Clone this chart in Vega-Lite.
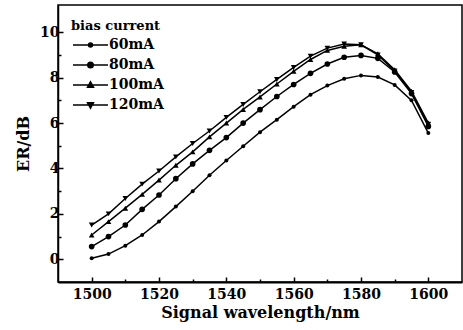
{
  "$schema": "https://vega.github.io/schema/vega-lite/v6.json",
  "width": 404,
  "height": 277,
  "autosize": {"type": "none"},
  "padding": {"left": 58, "top": 5, "right": 1, "bottom": 48},
  "background": "white",
  "config": {
    "view": {"stroke": "black", "strokeWidth": 1.5},
    "font": "DejaVu Serif",
    "axis": {
      "labelFont": "DejaVu Serif", "labelFontWeight": "bold", "labelFontSize": 14, "labelColor": "black",
      "titleFont": "DejaVu Serif", "titleFontWeight": "bold", "titleFontSize": 16, "titleColor": "black",
      "domainColor": "black", "domainWidth": 1.5, "tickColor": "black", "tickWidth": 1.5, "grid": false
    },
    "legend": {
      "orient": "none", "legendX": 13, "legendY": 15, "padding": 0,
      "titleFont": "DejaVu Serif", "titleFontSize": 13, "titleFontWeight": "bold", "titleColor": "black", "titlePadding": 5,
      "labelFont": "DejaVu Serif", "labelFontSize": 14, "labelFontWeight": "bold", "labelColor": "black",
      "symbolSize": 100, "labelOffset": 24, "rowPadding": 6, "symbolOpacity": 1, "symbolStrokeWidth": 1.5
    }
  },
  "data": {"values": [
    {"wl":1500,"er":0.05,"bias":"60mA"},{"wl":1505,"er":0.23,"bias":"60mA"},{"wl":1510,"er":0.6,"bias":"60mA"},{"wl":1515,"er":1.07,"bias":"60mA"},{"wl":1520,"er":1.66,"bias":"60mA"},{"wl":1525,"er":2.32,"bias":"60mA"},{"wl":1530,"er":3.0,"bias":"60mA"},{"wl":1535,"er":3.7,"bias":"60mA"},{"wl":1540,"er":4.35,"bias":"60mA"},{"wl":1545,"er":4.98,"bias":"60mA"},{"wl":1550,"er":5.6,"bias":"60mA"},{"wl":1555,"er":6.15,"bias":"60mA"},{"wl":1560,"er":6.72,"bias":"60mA"},{"wl":1565,"er":7.25,"bias":"60mA"},{"wl":1570,"er":7.65,"bias":"60mA"},{"wl":1575,"er":7.95,"bias":"60mA"},{"wl":1580,"er":8.1,"bias":"60mA"},{"wl":1585,"er":8.03,"bias":"60mA"},{"wl":1590,"er":7.68,"bias":"60mA"},{"wl":1595,"er":7.0,"bias":"60mA"},{"wl":1600,"er":5.56,"bias":"60mA"},
    {"wl":1500,"er":0.56,"bias":"80mA"},{"wl":1505,"er":1.0,"bias":"80mA"},{"wl":1510,"er":1.51,"bias":"80mA"},{"wl":1515,"er":2.2,"bias":"80mA"},{"wl":1520,"er":2.83,"bias":"80mA"},{"wl":1525,"er":3.55,"bias":"80mA"},{"wl":1530,"er":4.2,"bias":"80mA"},{"wl":1535,"er":4.8,"bias":"80mA"},{"wl":1540,"er":5.36,"bias":"80mA"},{"wl":1545,"er":6.0,"bias":"80mA"},{"wl":1550,"er":6.59,"bias":"80mA"},{"wl":1555,"er":7.17,"bias":"80mA"},{"wl":1560,"er":7.7,"bias":"80mA"},{"wl":1565,"er":8.19,"bias":"80mA"},{"wl":1570,"er":8.6,"bias":"80mA"},{"wl":1575,"er":8.9,"bias":"80mA"},{"wl":1580,"er":8.98,"bias":"80mA"},{"wl":1585,"er":8.85,"bias":"80mA"},{"wl":1590,"er":8.25,"bias":"80mA"},{"wl":1595,"er":7.3,"bias":"80mA"},{"wl":1600,"er":5.85,"bias":"80mA"},
    {"wl":1500,"er":1.07,"bias":"100mA"},{"wl":1505,"er":1.66,"bias":"100mA"},{"wl":1510,"er":2.25,"bias":"100mA"},{"wl":1515,"er":2.86,"bias":"100mA"},{"wl":1520,"er":3.49,"bias":"100mA"},{"wl":1525,"er":4.14,"bias":"100mA"},{"wl":1530,"er":4.73,"bias":"100mA"},{"wl":1535,"er":5.39,"bias":"100mA"},{"wl":1540,"er":6.0,"bias":"100mA"},{"wl":1545,"er":6.6,"bias":"100mA"},{"wl":1550,"er":7.15,"bias":"100mA"},{"wl":1555,"er":7.72,"bias":"100mA"},{"wl":1560,"er":8.28,"bias":"100mA"},{"wl":1565,"er":8.8,"bias":"100mA"},{"wl":1570,"er":9.2,"bias":"100mA"},{"wl":1575,"er":9.38,"bias":"100mA"},{"wl":1580,"er":9.45,"bias":"100mA"},{"wl":1585,"er":9.05,"bias":"100mA"},{"wl":1590,"er":8.35,"bias":"100mA"},{"wl":1595,"er":7.4,"bias":"100mA"},{"wl":1600,"er":6.0,"bias":"100mA"},
    {"wl":1500,"er":1.51,"bias":"120mA"},{"wl":1505,"er":2.0,"bias":"120mA"},{"wl":1510,"er":2.68,"bias":"120mA"},{"wl":1515,"er":3.31,"bias":"120mA"},{"wl":1520,"er":3.89,"bias":"120mA"},{"wl":1525,"er":4.51,"bias":"120mA"},{"wl":1530,"er":5.1,"bias":"120mA"},{"wl":1535,"er":5.65,"bias":"120mA"},{"wl":1540,"er":6.25,"bias":"120mA"},{"wl":1545,"er":6.82,"bias":"120mA"},{"wl":1550,"er":7.38,"bias":"120mA"},{"wl":1555,"er":7.92,"bias":"120mA"},{"wl":1560,"er":8.45,"bias":"120mA"},{"wl":1565,"er":8.95,"bias":"120mA"},{"wl":1570,"er":9.3,"bias":"120mA"},{"wl":1575,"er":9.48,"bias":"120mA"},{"wl":1580,"er":9.45,"bias":"120mA"},{"wl":1585,"er":9.0,"bias":"120mA"},{"wl":1590,"er":8.3,"bias":"120mA"},{"wl":1595,"er":7.35,"bias":"120mA"},{"wl":1600,"er":5.95,"bias":"120mA"}
  ]},
  "layer": [
    {
      "mark": {"type": "line", "color": "black", "strokeWidth": 1.5},
      "encoding": {
        "x": {"field": "wl", "type": "quantitative", "scale": {"domain": [1490, 1610], "nice": false, "zero": false},
          "axis": {"values": [1500, 1520, 1540, 1560, 1580, 1600], "tickSize": -5, "labelPadding": 10, "title": "Signal wavelength/nm", "titlePadding": 3, "format": "d", "domainWidth": 2}},
        "y": {"field": "er", "type": "quantitative", "scale": {"domain": [-1, 11.2], "nice": false, "zero": false},
          "axis": {"values": [0, 2, 4, 6, 8, 10], "tickSize": -5, "labelPadding": 4, "title": "ER/dB", "titlePadding": 8}},
        "detail": {"field": "bias"}
      }
    },
    {
      "transform": [{"filter": "datum.bias === '60mA'"}],
      "mark": {"type": "point", "filled": true, "color": "black", "opacity": 1, "size": 16, "shape": "circle"},
      "encoding": {
        "x": {"field": "wl", "type": "quantitative", "axis": null},
        "y": {"field": "er", "type": "quantitative", "axis": null}
      }
    },
    {
      "transform": [{"filter": "datum.bias !== '60mA'"}],
      "mark": {"type": "point", "filled": true, "color": "black", "opacity": 1, "size": 32},
      "encoding": {
        "x": {"field": "wl", "type": "quantitative", "axis": null},
        "y": {"field": "er", "type": "quantitative", "axis": null},
        "shape": {"field": "bias", "type": "nominal",
          "scale": {"domain": ["80mA", "100mA", "120mA"], "range": ["circle", "triangle-up", "triangle-down"]},
          "legend": null}
      }
    },
    {
      "mark": {"type": "point", "filled": true, "fill": "black", "stroke": "black", "strokeWidth": 1.5, "opacity": 0},
      "encoding": {
        "x": {"field": "wl", "type": "quantitative",
          "axis": {"orient": "bottom", "values": [1510, 1530, 1550, 1570, 1590], "tickSize": -3, "labels": false, "domain": false, "title": null}},
        "y": {"field": "er", "type": "quantitative",
          "axis": {"orient": "left", "values": [1, 3, 5, 7, 9], "tickSize": -3, "labels": false, "domain": false, "title": null}},
        "shape": {"field": "bias", "type": "nominal",
          "scale": {"domain": ["60mA", "80mA", "100mA", "120mA"],
            "range": ["M-1,0H6M2.1,0A0.4,0.4 0 1,0 2.9,0A0.4,0.4 0 1,0 2.1,0Z", "M-1,0H6M1.95,0A0.55,0.55 0 1,0 3.05,0A0.55,0.55 0 1,0 1.95,0Z", "M-1,0H6M2.5,-0.65L3.1,0.45L1.9,0.45Z", "M-1,0H6M2.5,0.65L3.1,-0.45L1.9,-0.45Z"]},
          "legend": {"title": "bias current"}}
      }
    }
  ],
  "resolve": {"axis": {"x": "independent", "y": "independent"}, "scale": {"shape": "independent"}}
}
